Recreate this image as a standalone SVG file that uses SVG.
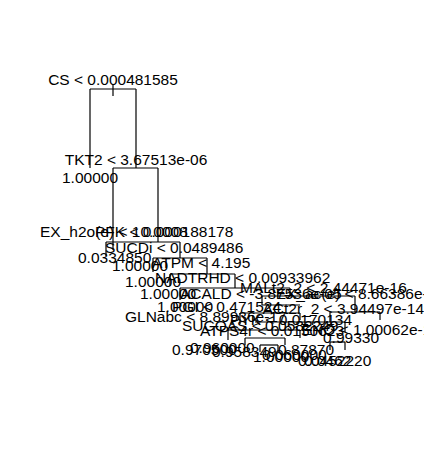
<svg xmlns="http://www.w3.org/2000/svg" width="424" height="461" viewBox="0 0 424 461">
<style>
text{font-family:"Liberation Sans",Arial,sans-serif;font-size:15.5px;fill:#000}
.m{text-anchor:middle}
.e{text-anchor:end}
line{stroke:#000;stroke-width:1.2;fill:none}
</style>
<rect width="424" height="461" fill="#fff"/>
<g id="connectors">
<line x1="90" y1="89" x2="136" y2="89"/>
<line x1="90" y1="89" x2="90" y2="168"/>
<line x1="136" y1="89" x2="136" y2="168"/>
<line x1="113" y1="85" x2="113" y2="96"/>
<line x1="113" y1="168" x2="158" y2="168"/>
<line x1="113" y1="168" x2="113" y2="250"/>
<line x1="158" y1="168" x2="158" y2="242"/>
<line x1="106" y1="242" x2="180" y2="242"/>
<line x1="106" y1="242" x2="106" y2="256"/>
<line x1="180" y1="242" x2="180" y2="258"/>
<line x1="153" y1="258" x2="207" y2="258"/>
<line x1="153" y1="258" x2="153" y2="272"/>
<line x1="207" y1="258" x2="207" y2="274"/>
<line x1="170" y1="274" x2="235" y2="274"/>
<line x1="170" y1="274" x2="170" y2="286"/>
<line x1="235" y1="274" x2="235" y2="288"/>
<line x1="180" y1="288" x2="290" y2="288"/>
<line x1="180" y1="288" x2="180" y2="300"/>
<line x1="290" y1="288" x2="290" y2="296"/>
<line x1="262" y1="296" x2="355" y2="296"/>
<line x1="262" y1="296" x2="262" y2="305"/>
<line x1="355" y1="296" x2="355" y2="312"/>
<line x1="262" y1="305" x2="300" y2="305"/>
<line x1="240" y1="313" x2="300" y2="313"/>
<line x1="240" y1="313" x2="240" y2="324"/>
<line x1="300" y1="313" x2="300" y2="320"/>
<line x1="330" y1="312" x2="380" y2="312"/>
<line x1="330" y1="312" x2="330" y2="322"/>
<line x1="380" y1="312" x2="380" y2="320"/>
<line x1="255" y1="322" x2="345" y2="322"/>
<line x1="345" y1="322" x2="345" y2="332"/>
<line x1="228" y1="330" x2="300" y2="330"/>
<line x1="228" y1="330" x2="228" y2="340"/>
<line x1="300" y1="330" x2="300" y2="338"/>
<line x1="245" y1="338" x2="285" y2="338"/>
<line x1="245" y1="338" x2="245" y2="345"/>
<line x1="285" y1="338" x2="285" y2="345"/>
<line x1="260" y1="345" x2="278" y2="345"/>
<line x1="260" y1="345" x2="260" y2="352"/>
<line x1="278" y1="345" x2="278" y2="352"/>
<line x1="330" y1="342" x2="345" y2="342"/>
<line x1="330" y1="342" x2="330" y2="350"/>
<line x1="345" y1="342" x2="345" y2="350"/>
</g>
<g id="n1"><text class="m" x="113" y="85">CS &lt; 0.000481585</text></g>
<g id="n2"><text class="m" x="90" y="183">1.00000</text></g>
<g id="n3"><text class="m" x="136" y="165">TKT2 &lt; 3.67513e-06</text></g>
<g id="n4"><text x="40" y="237">EX_h2o(e) &lt; 10.0008</text></g>
<g id="n5"><text x="95" y="237">PFK &lt; 0.000188178</text></g>
<g id="n6"><text x="105" y="253">SUCDi &lt; 0.0489486</text></g>
<g id="n7"><text x="78" y="263">0.0334850</text></g>
<g id="n8"><text x="152" y="268">ATPM &lt; 4.195</text></g>
<g id="n9"><text x="112" y="271">1.00000</text></g>
<g id="n10"><text x="155" y="283">NADTRHD &lt; 0.00933962</text></g>
<g id="n11"><text x="125" y="287">1.00000</text></g>
<g id="n12"><text x="240" y="293">MALt2_2 &lt; 2.44471e-16</text></g>
<g id="n13"><text x="140" y="299">1.00000</text></g>
<g id="n14"><text x="180" y="299">ACALD &lt; -3.87536e-05</text></g>
<g id="n15"><text class="e" x="445" y="299">EX_ac(e) &lt; 8.66386e-05</text></g>
<g id="n16"><text x="157" y="312">1.00000</text></g>
<g id="n17"><text x="172" y="312">PGI &lt; 0.471524</text></g>
<g id="n18"><text class="e" x="424" y="314">ACt2r_2 &lt; 3.94497e-14</text></g>
<g id="n19"><text x="125" y="322">GLNabc &lt; 8.89936e-17</text></g>
<g id="n20"><text class="e" x="352" y="325">PYK &lt; 0.0170134</text></g>
<g id="n21"><text x="182" y="331">SUCOAS &lt; 0.0582249</text></g>
<g id="n22"><text x="200" y="336">ATPS4r &lt; 0.0150623</text></g>
<g id="n23"><text class="e" x="440" y="335">ENO &lt; 1.00062e-14</text></g>
<g id="n24"><text x="323" y="343">0.99330</text></g>
<g id="n25"><text x="172" y="355">0.970500</text></g>
<g id="n26"><text x="190" y="353">0.960000</text></g>
<g id="n27"><text x="212" y="357">0.958349</text></g>
<g id="n28"><text x="278" y="355">0.87870</text></g>
<g id="n29"><text x="253" y="362">1.00000</text></g>
<g id="n30"><text x="262" y="360">0.060000</text></g>
<g id="n31"><text x="298" y="366">0.0452220</text></g>
<g id="n32"><text x="304" y="366">0.0462</text></g>
</svg>
